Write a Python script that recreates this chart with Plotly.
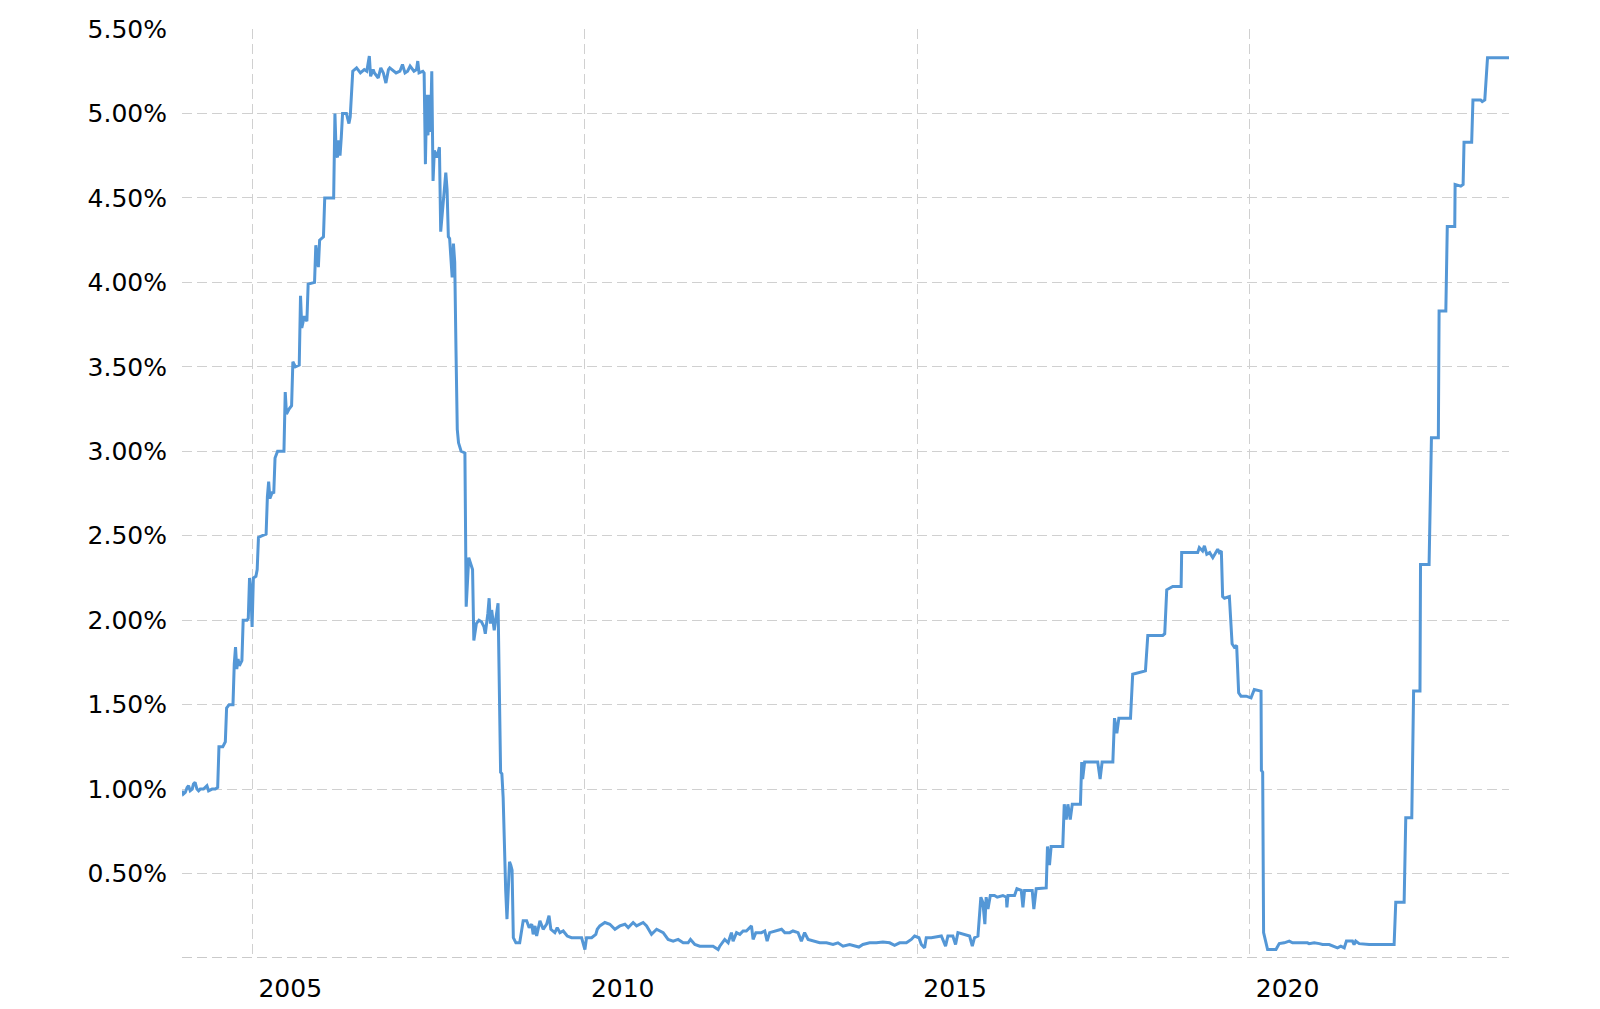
import plotly.graph_objects as go

# Effective federal funds rate (%)
dates = [
    "2003-12-12", "2003-12-19", "2003-12-30", "2004-01-09", "2004-01-17", "2004-01-26",
    "2004-02-06", "2004-02-13", "2004-02-22", "2004-03-03", "2004-03-12", "2004-03-21",
    "2004-04-08", "2004-04-27", "2004-05-06", "2004-05-25", "2004-06-12", "2004-06-25",
    "2004-07-02", "2004-07-23", "2004-08-06", "2004-08-13", "2004-08-27", "2004-09-17",
    "2004-09-24", "2004-10-01", "2004-10-08", "2004-10-15", "2004-10-22", "2004-11-05",
    "2004-11-12", "2004-12-03", "2004-12-10", "2004-12-17", "2004-12-24", "2004-12-31",
    "2005-01-07", "2005-01-21", "2005-01-28", "2005-02-04", "2005-02-25", "2005-03-18",
    "2005-03-25", "2005-04-01", "2005-04-08", "2005-04-22", "2005-04-29", "2005-05-06",
    "2005-05-20", "2005-06-24", "2005-07-01", "2005-07-08", "2005-07-22", "2005-08-05",
    "2005-08-12", "2005-08-26", "2005-09-16", "2005-09-23", "2005-09-30", "2005-10-14",
    "2005-10-28", "2005-11-04", "2005-12-09", "2005-12-16", "2005-12-30", "2006-01-06",
    "2006-01-27", "2006-02-03", "2006-03-24", "2006-03-31", "2006-04-07", "2006-04-14",
    "2006-04-21", "2006-04-28", "2006-05-05", "2006-05-12", "2006-06-02", "2006-06-16",
    "2006-06-23", "2006-06-30", "2006-07-07",
    "2006-07-28", "2006-08-18", "2006-09-08", "2006-09-22", "2006-10-06", "2006-10-13",
    "2006-10-27", "2006-11-03", "2006-11-24", "2006-12-08", "2006-12-22", "2007-01-05",
    "2007-01-19", "2007-01-26", "2007-03-02", "2007-03-23", "2007-04-06", "2007-04-20",
    "2007-05-04", "2007-05-18", "2007-06-08", "2007-06-22", "2007-06-29", "2007-07-06",
    "2007-07-27", "2007-08-03", "2007-08-10", "2007-08-17", "2007-08-24", "2007-08-31",
    "2007-09-07", "2007-09-14", "2007-09-21", "2007-09-28", "2007-10-12", "2007-10-26",
    "2007-11-02", "2007-11-16", "2007-11-30", "2007-12-07", "2007-12-14", "2007-12-21",
    "2008-01-04", "2008-01-11", "2008-01-18", "2008-01-25", "2008-02-01", "2008-02-08",
    "2008-02-22", "2008-03-14", "2008-03-21", "2008-04-04", "2008-04-25", "2008-05-02",
    "2008-05-16", "2008-05-30", "2008-06-13", "2008-06-27", "2008-07-04", "2008-07-18",
    "2008-07-25", "2008-08-01", "2008-08-08", "2008-08-22", "2008-09-05", "2008-09-12",
    "2008-09-26", "2008-10-03", "2008-10-10", "2008-10-17", "2008-10-24", "2008-10-31",
    "2008-11-07", "2008-11-14", "2008-11-21", "2008-11-28", "2008-12-05", "2008-12-19",
    "2009-01-09", "2009-01-16", "2009-01-28",
    "2009-02-16", "2009-03-02", "2009-03-16", "2009-03-24", "2009-04-03", "2009-04-12",
    "2009-04-30", "2009-05-18", "2009-06-06", "2009-06-19", "2009-06-29", "2009-07-21",
    "2009-08-03", "2009-08-18", "2009-09-05", "2009-09-27", "2009-10-21", "2009-11-18",
    "2009-12-15", "2010-01-02", "2010-01-11", "2010-02-08", "2010-03-03", "2010-03-11",
    "2010-03-25", "2010-04-22", "2010-05-19", "2010-06-16", "2010-07-13", "2010-08-10",
    "2010-08-28", "2010-09-24", "2010-10-13", "2010-11-18", "2010-12-07", "2011-01-03",
    "2011-01-31", "2011-03-08", "2011-04-04", "2011-05-02", "2011-05-29", "2011-06-26",
    "2011-07-23", "2011-08-05", "2011-08-29", "2011-09-25", "2011-11-01", "2011-12-07",
    "2012-01-04", "2012-01-13", "2012-02-09", "2012-02-28", "2012-03-17", "2012-03-26",
    "2012-04-14", "2012-05-02", "2012-05-20", "2012-06-07", "2012-07-05", "2012-07-14",
    "2012-07-29", "2012-08-29", "2012-09-16", "2012-09-29", "2012-10-13", "2012-11-19",
    "2012-12-17", "2013-01-04", "2013-01-31", "2013-02-18", "2013-03-18", "2013-04-05",
    "2013-04-23", "2013-05-12", "2013-06-08", "2013-07-15", "2013-08-21", "2013-09-26",
    "2013-10-23", "2013-11-20", "2013-12-26", "2014-01-23", "2014-02-15", "2014-03-09",
    "2014-04-15", "2014-05-22", "2014-06-27", "2014-08-03", "2014-08-30", "2014-09-27",
    "2014-11-03", "2014-11-30", "2014-12-18", "2015-01-11", "2015-01-24", "2015-02-11",
    "2015-02-20", "2015-03-20", "2015-04-17", "2015-05-14", "2015-06-06", "2015-06-19",
    "2015-07-16", "2015-07-31", "2015-08-13", "2015-09-09", "2015-10-16", "2015-10-31",
    "2015-11-12", "2015-12-01",
    "2015-12-17", "2015-12-28", "2016-01-08", "2016-01-15", "2016-01-25", "2016-02-07",
    "2016-03-01", "2016-03-16", "2016-04-16", "2016-05-05", "2016-05-08", "2016-05-14",
    "2016-06-19", "2016-07-02", "2016-07-26", "2016-08-04", "2016-08-13", "2016-09-24",
    "2016-10-03", "2016-10-16", "2016-12-10", "2016-12-17", "2016-12-28", "2017-01-06",
    "2017-03-11", "2017-03-19", "2017-03-30", "2017-04-08", "2017-04-21", "2017-05-02",
    "2017-06-16", "2017-06-23", "2017-06-28", "2017-07-09", "2017-09-19", "2017-10-02",
    "2017-10-13", "2017-12-11", "2017-12-20", "2018-01-02", "2018-01-13", "2018-03-18",
    "2018-03-30", "2018-06-08", "2018-06-21", "2018-09-11", "2018-09-22", "2018-10-03",
    "2018-11-05", "2018-12-21", "2018-12-24", "2019-03-22", "2019-03-31", "2019-04-18",
    "2019-04-28", "2019-05-11", "2019-05-27", "2019-06-13", "2019-06-27", "2019-07-10",
    "2019-07-19", "2019-07-30", "2019-08-06", "2019-08-16", "2019-09-12", "2019-09-27",
    "2019-10-09", "2019-10-22", "2019-11-02", "2019-11-15", "2019-12-13", "2020-01-09",
    "2020-01-27", "2020-03-04", "2020-03-06", "2020-03-13", "2020-03-18", "2020-04-09",
    "2020-05-25", "2020-06-12", "2020-07-09", "2020-08-06", "2020-08-24", "2020-11-14",
    "2020-11-23", "2020-12-21", "2021-01-18", "2021-02-05", "2021-03-13", "2021-04-28",
    "2021-05-16", "2021-06-04", "2021-06-16", "2021-07-19", "2021-07-28", "2021-08-06",
    "2021-08-25", "2021-10-19", "2021-12-31", "2022-03-05", "2022-03-14", "2022-04-29",
    "2022-05-08", "2022-06-10", "2022-06-20", "2022-07-25", "2022-07-28", "2022-09-13",
    "2022-09-26", "2022-11-03", "2022-11-07", "2022-12-14", "2022-12-22", "2023-02-01",
    "2023-02-03", "2023-03-06", "2023-03-19", "2023-03-24", "2023-05-05", "2023-05-12",
    "2023-06-23", "2023-07-02", "2023-07-16", "2023-07-31", "2023-11-26",
]

rates = [
    0.99, 0.97, 0.98, 1.01, 1.02, 0.99,
    1.00, 1.03, 1.04, 1.00, 0.99, 1.00,
    1.00, 1.02, 0.99, 1.00, 1.00, 1.01,
    1.25, 1.25, 1.28, 1.48, 1.50, 1.50,
    1.74, 1.84, 1.71, 1.77, 1.73, 1.76,
    2.00, 2.00, 2.01, 2.25, 2.18, 1.96,
    2.25, 2.26, 2.30, 2.49, 2.50, 2.51,
    2.73, 2.82, 2.72, 2.76, 2.75, 2.96,
    3.00, 3.00, 3.35, 3.22, 3.25, 3.27,
    3.53, 3.50, 3.51, 3.92, 3.73, 3.80,
    3.77, 3.99, 4.00, 4.22, 4.09, 4.25,
    4.27, 4.50, 4.50, 5.00, 4.76, 4.74,
    4.84, 4.75, 4.86, 5.00, 5.00, 4.94,
    4.98, 5.10, 5.25,
    5.27, 5.24, 5.26, 5.25, 5.34, 5.22,
    5.26, 5.24, 5.21, 5.27, 5.24, 5.18,
    5.26, 5.27, 5.24, 5.25, 5.29, 5.24,
    5.25, 5.28, 5.25, 5.26, 5.31, 5.24,
    5.25, 5.24, 4.70, 5.11, 4.87, 5.11,
    4.89, 5.25, 4.60, 4.78, 4.74, 4.80,
    4.30, 4.50, 4.65, 4.55, 4.27, 4.26,
    4.03, 4.23, 4.12, 3.60, 3.13, 3.05,
    3.00, 2.99, 2.08, 2.37, 2.30, 1.88,
    1.98, 2.00, 1.99, 1.96, 1.92, 2.04,
    2.13, 1.98, 2.06, 1.94, 2.04, 2.10,
    1.10, 1.09, 0.95, 0.60, 0.40, 0.23,
    0.45, 0.57, 0.55, 0.52, 0.12, 0.09,
    0.09, 0.15, 0.22,
    0.22, 0.18, 0.20, 0.14, 0.19, 0.13,
    0.22, 0.17, 0.20, 0.25, 0.17, 0.15,
    0.18, 0.15, 0.16, 0.13, 0.12, 0.12,
    0.12, 0.05, 0.12, 0.12, 0.14, 0.17,
    0.19, 0.21, 0.20, 0.17, 0.19, 0.20,
    0.18, 0.21, 0.19, 0.21, 0.19, 0.14,
    0.17, 0.15, 0.11, 0.10, 0.11, 0.09,
    0.09, 0.11, 0.08, 0.07, 0.07, 0.07,
    0.05, 0.07, 0.11, 0.09, 0.15, 0.10,
    0.15, 0.14, 0.16, 0.16, 0.19, 0.11,
    0.15, 0.15, 0.16, 0.10, 0.15, 0.16,
    0.17, 0.15, 0.15, 0.16, 0.15, 0.10,
    0.15, 0.11, 0.10, 0.09, 0.09, 0.08,
    0.09, 0.07, 0.08, 0.07, 0.065, 0.08,
    0.09, 0.09, 0.095, 0.09, 0.075, 0.09,
    0.09, 0.11, 0.13, 0.12, 0.08, 0.06,
    0.12, 0.12, 0.125, 0.13, 0.07, 0.13,
    0.13, 0.08, 0.15, 0.14, 0.13, 0.07,
    0.12, 0.13,
    0.36, 0.33, 0.20, 0.36, 0.29, 0.37,
    0.37, 0.36, 0.37, 0.36, 0.30, 0.37,
    0.37, 0.41, 0.40, 0.30, 0.40, 0.40,
    0.29, 0.41, 0.415, 0.66, 0.55, 0.66,
    0.66, 0.91, 0.82, 0.91, 0.82, 0.91,
    0.91, 1.16, 1.06, 1.16, 1.16, 1.06,
    1.16, 1.16, 1.42, 1.33, 1.42, 1.42,
    1.68, 1.70, 1.91, 1.91, 1.92, 2.18,
    2.20, 2.20, 2.40, 2.40, 2.43, 2.41,
    2.44, 2.39, 2.40, 2.37, 2.40, 2.42,
    2.40, 2.41, 2.14, 2.13, 2.14, 1.86,
    1.84, 1.85, 1.57, 1.55, 1.55, 1.54,
    1.59, 1.58, 1.11, 1.10, 0.15, 0.05,
    0.05, 0.085, 0.09, 0.10, 0.09, 0.09,
    0.085, 0.09, 0.085, 0.08, 0.08, 0.06,
    0.07, 0.06, 0.10, 0.10, 0.08, 0.10,
    0.085, 0.08, 0.08, 0.08, 0.33, 0.33,
    0.83, 0.83, 1.58, 1.58, 2.33, 2.33,
    3.08, 3.08, 3.83, 3.83, 4.33, 4.33,
    4.58, 4.57, 4.58, 4.83, 4.83, 5.08,
    5.08, 5.07, 5.08, 5.33, 5.33,
]

y_ticks = [0.5, 1.0, 1.5, 2.0, 2.5, 3.0, 3.5, 4.0, 4.5, 5.0, 5.5]
y_tick_labels = ["0.50%", "1.00%", "1.50%", "2.00%", "2.50%", "3.00%",
                 "3.50%", "4.00%", "4.50%", "5.00%", "5.50%"]
x_ticks = ["2005-01-01", "2010-01-01", "2015-01-01", "2020-01-01"]
x_tick_labels = ["2005", "2010", "2015", "2020"]
baseline_value = 0

FONT = "DejaVu Sans, Verdana, sans-serif"
GRID = "rgb(208,208,208)"
DASH = "10px,5px"

fig = go.Figure()
fig.add_trace(go.Scatter(
    x=dates, y=rates, mode="lines",
    line=dict(color="rgb(84,151,214)", width=3),
    hoverinfo="skip", showlegend=False,
))

# dashed darker baseline along the bottom of the plot (value axis zero)
fig.add_shape(
    type="line", xref="paper", yref="y",
    x0=0, x1=1, y0=baseline_value, y1=baseline_value,
    line=dict(color="rgb(150,150,150)", width=1.2, dash=DASH),
    layer="below",
)

fig.update_layout(
    width=1600, height=1009,
    margin=dict(l=182, r=91, t=29, b=51, pad=0, autoexpand=False),
    paper_bgcolor="white", plot_bgcolor="white",
    font=dict(family=FONT, size=25, color="#000"),
    showlegend=False,
    xaxis=dict(
        type="date",
        range=[dates[0], dates[-1]],
        tickvals=x_ticks, ticktext=x_tick_labels,
        showgrid=True, gridcolor=GRID, gridwidth=1, griddash=DASH,
        zeroline=False, showline=False, ticks="",
        ticklabelshift=38, ticklabelstandoff=13,
        automargin=False,
        tickfont=dict(family=FONT, size=25, color="#000"),
    ),
    yaxis=dict(
        range=[0, 5.5],
        tickvals=y_ticks, ticktext=y_tick_labels,
        showgrid=True, gridcolor=GRID, gridwidth=1, griddash=DASH,
        zeroline=False, showline=False, ticks="",
        ticklabelstandoff=14,
        automargin=False,
        tickfont=dict(family=FONT, size=25, color="#000"),
    ),
)

fig.write_html(
    "out.html",
    config={"displayModeBar": False},
    post_script="document.body.style.margin='0';",
)
